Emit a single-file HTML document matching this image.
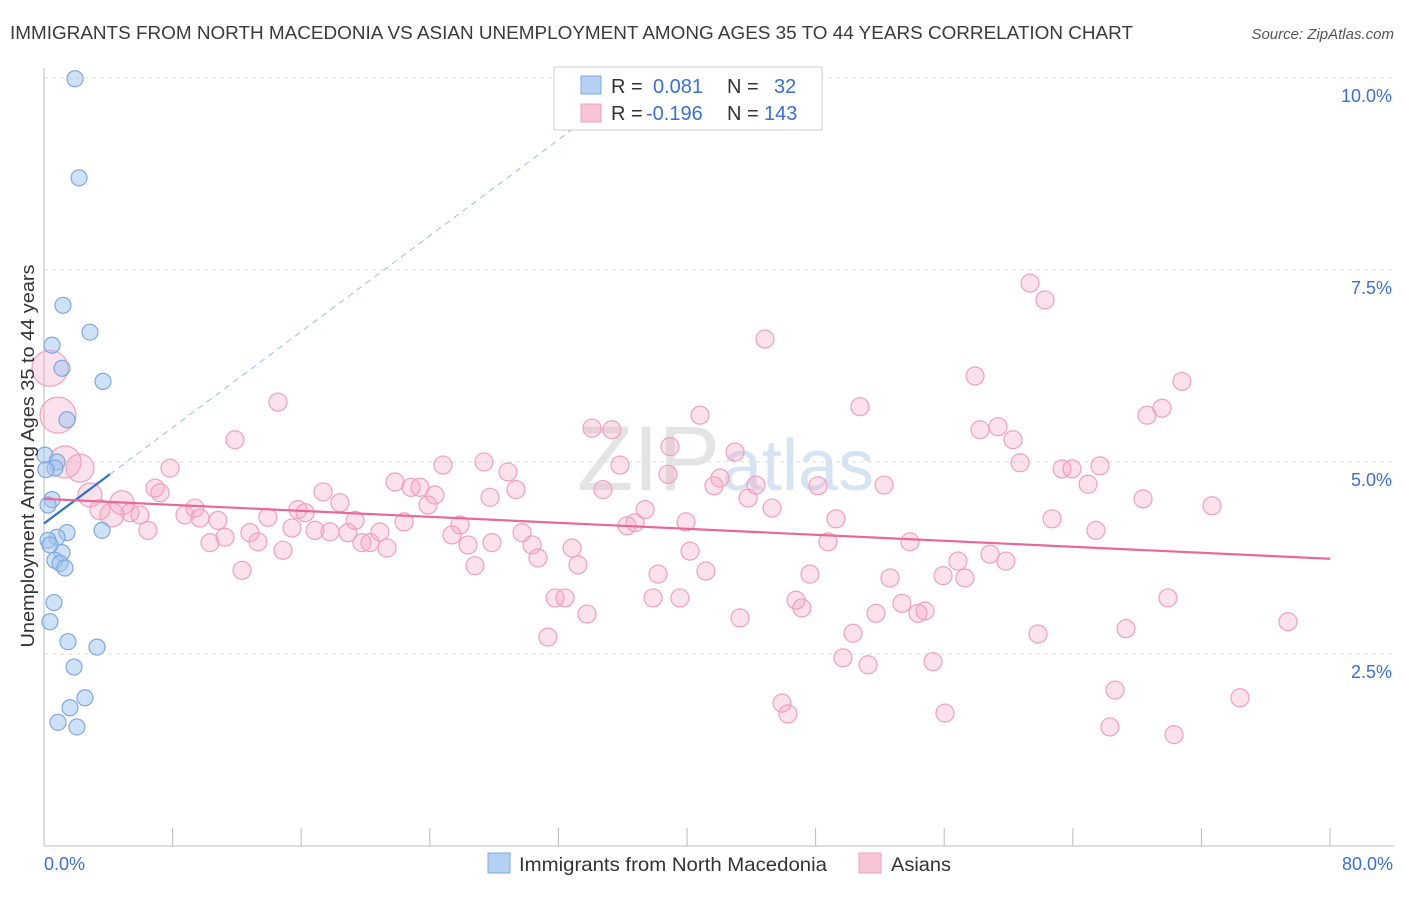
<!DOCTYPE html>
<html><head><meta charset="utf-8"><style>
body{margin:0;background:#fff;font-family:"Liberation Sans",sans-serif;}
svg text{font-family:"Liberation Sans",sans-serif;}
</style></head><body>
<svg id="c" width="1406" height="892" xmlns="http://www.w3.org/2000/svg">
<text x="10" y="39" font-size="18" textLength="1123" lengthAdjust="spacingAndGlyphs" fill="#3a3a3a">IMMIGRANTS FROM NORTH MACEDONIA VS ASIAN UNEMPLOYMENT AMONG AGES 35 TO 44 YEARS CORRELATION CHART</text>
<text x="1394" y="39" font-size="15" fill="#555" text-anchor="end" font-style="italic">Source: ZipAtlas.com</text>
<text x="720" y="490" font-size="92" fill="#e4e4e4" text-anchor="end" font-family="Liberation Serif">ZIP</text>
<text x="722" y="490" font-size="72" fill="#d6e3f3">atlas</text>
<g id="grid"></g>
<g id="axes"></g>
<g id="pts"></g>
<g id="trend"></g>
<text transform="translate(34,456) rotate(-90)" font-size="18" textLength="383" lengthAdjust="spacingAndGlyphs" fill="#333" text-anchor="middle">Unemployment Among Ages 35 to 44 years</text>
<g>
<rect x="554" y="67" width="268" height="63" fill="#fff" stroke="#ccc"/>
<rect x="581" y="76" width="20" height="18" fill="#b5d0f3" stroke="#7ea8e0"/>
<text x="611" y="93" font-size="20" fill="#333">R = </text><text x="653" y="93" font-size="20" fill="#3b6fd4">0.081</text>
<text x="727" y="93" font-size="20" fill="#333">N = </text><text x="774" y="93" font-size="20" fill="#3b6fd4">32</text>
<rect x="581" y="104" width="20" height="18" fill="#f8c5d6" stroke="#f0a0bc"/>
<text x="611" y="120" font-size="20" fill="#333">R = </text><text x="646" y="120" font-size="20" fill="#3b6fd4">-0.196</text>
<text x="727" y="120" font-size="20" fill="#333">N = </text><text x="764" y="120" font-size="20" fill="#3b6fd4">143</text>
</g>
<g>
<rect x="488" y="853" width="22" height="20" fill="#b5d0f3" stroke="#7ea8e0"/>
<text x="519" y="871" font-size="19.5" textLength="308" lengthAdjust="spacingAndGlyphs" fill="#333">Immigrants from North Macedonia</text>
<rect x="859" y="853" width="22" height="20" fill="#f8c5d6" stroke="#f0a0bc"/>
<text x="891" y="871" font-size="19.5" textLength="60" lengthAdjust="spacingAndGlyphs" fill="#333">Asians</text>
</g>
</svg>
<script>
const blueX=[1.93,2.18,1.18,2.86,0.50,1.12,3.67,1.43,0.06,0.81,0.68,0.50,0.25,1.43,0.81,3.61,1.12,0.68,1.00,1.31,0.62,0.37,1.49,3.30,1.87,2.55,1.62,0.87,2.05,0.25,0.12,0.37];
const blueY=[9.99,8.70,7.04,6.69,6.52,6.22,6.05,5.55,5.09,5.00,4.92,4.51,4.44,4.08,4.02,4.11,3.82,3.72,3.68,3.62,3.17,2.92,2.66,2.59,2.33,1.93,1.80,1.61,1.55,3.98,4.90,3.92];
const pinkX=[0.37,0.87,1.31,2.24,2.86,3.48,4.23,4.85,5.35,5.97,6.47,6.91,7.22,7.84,8.77,9.39,9.70,10.33,10.82,11.26,11.88,12.32,12.81,13.31,13.93,14.56,14.87,15.43,15.80,16.24,16.86,17.36,17.79,18.41,18.91,19.35,19.78,20.28,20.90,21.34,21.84,22.40,22.83,23.39,23.89,24.32,24.82,25.38,25.88,26.38,26.81,27.37,27.75,27.87,28.86,29.36,29.74,30.36,30.73,31.35,31.79,32.41,32.85,33.22,33.78,34.09,34.77,35.33,35.83,36.27,36.77,37.39,37.89,38.20,38.82,38.94,39.56,39.94,40.19,40.81,41.18,41.68,42.05,42.99,43.30,43.80,44.29,44.85,45.29,45.91,46.28,46.78,47.15,47.65,48.15,48.77,49.27,49.70,50.33,50.76,51.26,51.76,52.26,52.63,53.37,53.87,54.37,54.81,55.30,55.93,56.05,56.86,57.29,57.92,58.23,58.85,59.35,59.84,60.28,60.72,61.34,61.84,62.27,62.71,63.33,63.95,64.95,65.44,65.69,66.31,66.63,67.31,68.37,68.62,69.55,69.92,70.30,70.79,72.66,74.40,77.39];
const pinkY=[6.22,5.61,5.00,4.92,4.57,4.38,4.31,4.47,4.34,4.31,4.11,4.66,4.60,4.92,4.31,4.40,4.27,3.95,4.24,4.02,5.29,3.59,4.08,3.96,4.28,5.78,3.85,4.14,4.38,4.34,4.11,4.61,4.09,4.47,4.08,4.24,3.95,3.95,4.09,3.88,4.74,4.22,4.67,4.67,4.44,4.57,4.96,4.05,4.18,3.92,3.65,5.00,4.54,3.95,4.87,4.64,4.08,3.92,3.75,2.72,3.23,3.23,3.88,3.66,3.02,5.44,4.64,5.42,4.96,4.17,4.21,4.38,3.23,3.54,4.84,5.20,3.23,4.22,3.84,5.61,3.58,4.69,4.79,5.13,2.97,4.53,4.70,6.60,4.40,1.86,1.72,3.20,3.10,3.54,4.69,3.96,4.26,2.45,2.77,5.72,2.36,3.03,4.70,3.49,3.16,3.96,3.03,3.06,2.40,3.52,1.73,3.71,3.49,6.12,5.42,3.80,5.46,3.71,5.29,4.99,7.33,2.76,7.11,4.26,4.91,4.91,4.71,4.11,4.95,1.55,2.03,2.83,4.52,5.61,5.70,3.23,1.45,6.05,4.43,1.93,2.92];
const pinkBig=[18,18,16,14,12,10,12,12];
const yTicks=[2.5,5.0,7.5,10.0];
const xTickCount=10;
const blueTrend=[4.2,4.84], blueTrendX=[0,4.1];
const pinkTrend=[4.52,3.74];
const X0=44,X1=1330,Y0=846,Y1=78;
const sx=v=>X0+(v/80)*(X1-X0);
const sy=v=>Y0-(v/10)*(Y0-Y1);
const NS='http://www.w3.org/2000/svg';
function mk(t,a,p){const e=document.createElementNS(NS,t);for(const k in a)e.setAttribute(k,a[k]);p.appendChild(e);return e;}
const grid=document.getElementById('grid'),axes=document.getElementById('axes'),pts=document.getElementById('pts'),tr=document.getElementById('trend');
yTicks.forEach(v=>{
 const l=mk('line',{x1:X0,x2:1394,y1:sy(v),y2:sy(v),stroke:'#ddd','stroke-dasharray':'4,4'},grid);
 
 
 const t=mk('text',{x:1392,y:sy(v)+24,'font-size':18,fill:'#3b6fd4','text-anchor':'end'},axes);
 t.textContent=v.toFixed(1)+'%';
 
 
});
const ax=mk('line',{x1:X0,x2:X0,y1:68,y2:Y0,stroke:'#bbb'},axes);


const bx=mk('line',{x1:X0,x2:1394,y1:Y0,y2:Y0,stroke:'#bbb'},axes);


for(let i=0;i<=xTickCount;i++){
 const x=sx(i*80/xTickCount);
 const t=mk('line',{x1:x,x2:x,y1:828,y2:Y0,stroke:'#bbb'},axes);
 
 
}
const xl0=mk('text',{x:X0,y:870,'font-size':18,fill:'#3b6fd4'},axes);xl0.textContent='0.0%';


const xl1=mk('text',{x:1393,y:870,'font-size':18,fill:'#3b6fd4','text-anchor':'end'},axes);xl1.textContent='80.0%';


pinkX.forEach((x,i)=>{
 const c=mk('circle',{cx:sx(x),cy:sy(pinkY[i]),r:pinkBig[i]||9,fill:'rgba(244,165,195,0.33)',stroke:'#f0a0bc','stroke-width':1.2},pts);
 
 
});
blueX.forEach((x,i)=>{
 const c=mk('circle',{cx:sx(x),cy:sy(blueY[i]),r:8,fill:'rgba(160,195,240,0.5)',stroke:'#7ea8e0','stroke-width':1.2},pts);
 
 
});
const slope=(blueTrend[1]-blueTrend[0])/(blueTrendX[1]-blueTrendX[0]);
const dl=mk('line',{x1:sx(blueTrendX[1]),y1:sy(blueTrend[1]),x2:sx(33),y2:sy(blueTrend[0]+slope*33),stroke:'#9bbbe8','stroke-dasharray':'6,5','stroke-width':1},tr);


const bl=mk('line',{x1:sx(blueTrendX[0]),y1:sy(blueTrend[0]),x2:sx(blueTrendX[1]),y2:sy(blueTrend[1]),stroke:'#2f6fd6','stroke-width':2.2},tr);


const pl=mk('line',{x1:sx(0),y1:sy(pinkTrend[0]),x2:sx(80),y2:sy(pinkTrend[1]),stroke:'#e8689a','stroke-width':2.2},tr);


</script>
</body></html>
